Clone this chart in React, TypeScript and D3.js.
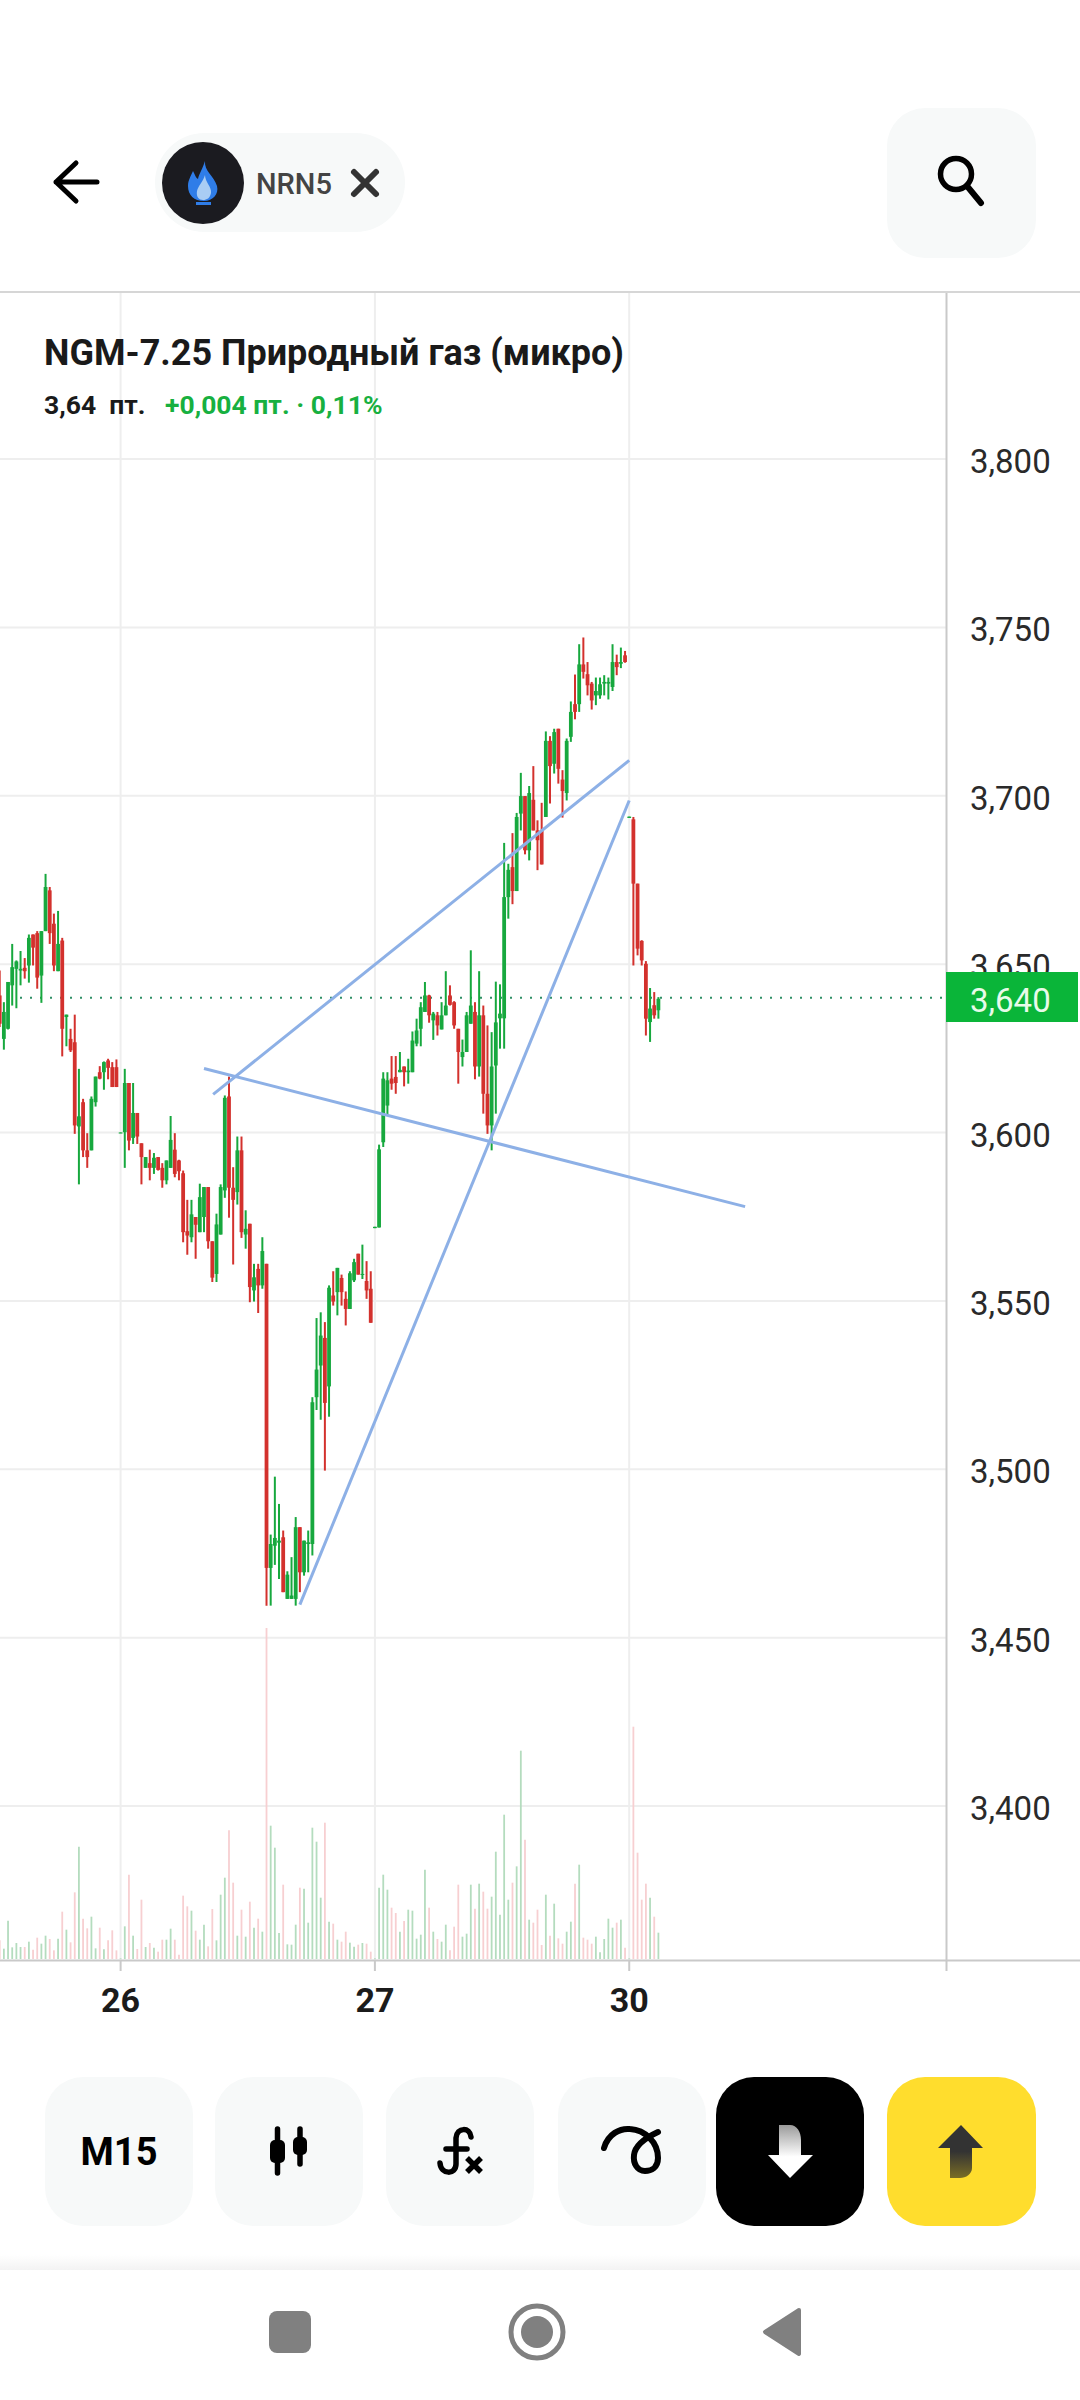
import React from "react";
import * as d3 from "d3";

// prices are in thousandths of a point (3640 = 3,640)
const opens = [3640.7,3627.8,3630.8,3643.7,3648.6,3648.1,3648.9,3649.6,3658.8,3659.2,
3646.6,3659.8,3671.9,3662.0,3647.9,3657.0,3634.3,3627.8,3626.8,3601.8,
3609.0,3594.7,3594.7,3609.0,3617.9,3617.9,3621.4,3619.4,3619.4,3599.8,
3600.1,3614.7,3598.4,3605.8,3596.8,3589.5,3590.9,3589.5,3592.7,3589.5,
3585.8,3589.5,3594.9,3591.7,3587.9,3570.7,3568.9,3574.9,3570.4,3574.9,
3583.8,3567.7,3558.0,3569.7,3582.8,3610.7,3583.6,3582.3,3594.7,3569.7,
3572.9,3553.1,3559.5,3554.6,3561.0,3470.7,3477.3,3478.2,3479.8,3461.5,
3461.5,3461.5,3482.8,3469.4,3477.8,3477.8,3521.4,3530.8,3539.0,3524.6,
3551.6,3552.6,3556.8,3550.6,3547.6,3556.1,3564.0,3557.8,3555.9,3553.6,
3571.6,3571.8,3597.1,3608.0,3616.0,3616.5,3617.9,3619.6,3617.9,3617.9,
3626.4,3630.8,3635.8,3640.7,3633.3,3634.8,3630.6,3634.8,3640.7,3638.7,
3630.8,3622.4,3623.9,3632.3,3635.8,3619.6,3634.8,3611.5,3602.1,3619.9,
3633.9,3633.9,3669.9,3678.8,3671.7,3694.7,3699.9,3683.8,3698.8,3689.7,
3689.7,3693.7,3716.3,3709.5,3719.9,3704.8,3700.8,3717.5,3727.2,3727.2,
3739.0,3736.1,3733.3,3729.8,3729.8,3733.3,3733.3,3732.3,3739.7,3739.2,
3741.7,3693.4,3693.0,3673.9,3656.9,3650.1,3632.8,3637.8,3636.3];
const highs = [3648.1,3638.7,3644.7,3656.0,3651.1,3653.9,3651.8,3658.8,3658.8,3659.8,
3659.8,3676.8,3672.9,3665.0,3665.8,3657.8,3635.0,3630.8,3635.0,3618.9,
3610.0,3599.8,3610.7,3616.6,3619.7,3621.1,3621.9,3620.9,3621.7,3600.0,
3618.9,3614.7,3614.7,3605.8,3596.8,3592.7,3594.9,3593.9,3592.7,3590.9,
3591.7,3604.9,3599.8,3591.9,3588.7,3580.0,3580.0,3574.9,3584.8,3583.8,
3583.8,3567.7,3575.9,3584.6,3611.0,3616.6,3589.7,3598.8,3598.8,3576.9,
3572.9,3561.0,3561.0,3568.9,3561.0,3480.6,3497.8,3489.7,3481.8,3469.7,
3473.9,3485.8,3482.8,3478.8,3481.8,3521.4,3544.9,3546.6,3543.7,3554.6,
3558.8,3559.8,3557.8,3552.8,3558.8,3562.5,3564.0,3566.7,3561.8,3558.8,
3572.0,3596.4,3617.9,3617.9,3622.7,3622.7,3623.9,3619.6,3621.9,3630.0,
3633.8,3638.7,3644.7,3640.9,3635.8,3635.8,3638.7,3647.9,3643.7,3639.0,
3630.8,3627.6,3635.8,3654.1,3638.7,3647.9,3637.7,3631.8,3629.8,3644.8,
3644.0,3686.0,3679.8,3688.9,3694.9,3706.8,3699.9,3702.9,3708.8,3692.7,
3697.9,3719.1,3717.7,3719.9,3719.9,3707.6,3717.0,3728.0,3736.0,3745.0,
3747.0,3739.7,3733.8,3735.1,3735.1,3735.8,3735.1,3745.0,3741.9,3744.0,
3743.0,3693.8,3693.7,3673.9,3657.1,3650.9,3642.9,3641.7,3640.2];
const lows = [3631.3,3624.6,3630.6,3637.7,3636.9,3643.7,3645.7,3644.5,3649.6,3642.7,
3638.5,3659.8,3656.0,3647.9,3647.9,3622.6,3625.6,3623.9,3599.6,3584.6,
3592.7,3589.5,3594.7,3607.7,3615.8,3612.7,3615.8,3613.5,3613.5,3599.8,
3589.5,3594.7,3596.6,3596.6,3584.6,3589.5,3585.8,3587.7,3588.7,3583.6,
3584.6,3589.5,3586.7,3585.8,3567.4,3563.7,3567.4,3562.5,3570.4,3570.4,
3565.5,3555.6,3555.6,3569.7,3580.6,3574.7,3560.8,3578.6,3568.7,3565.5,
3549.6,3549.8,3546.4,3553.6,3459.5,3459.5,3471.6,3467.4,3463.5,3461.5,
3461.5,3459.5,3463.5,3468.4,3469.4,3474.4,3517.6,3514.7,3499.6,3515.6,
3548.6,3545.7,3548.6,3542.7,3547.6,3555.6,3557.8,3556.5,3550.6,3543.5,
3571.6,3571.8,3595.7,3605.1,3612.7,3611.5,3617.9,3613.7,3614.5,3617.9,
3625.6,3625.6,3635.8,3632.6,3627.5,3628.8,3630.6,3634.8,3637.7,3630.8,
3614.5,3619.6,3623.9,3632.3,3615.8,3616.6,3605.6,3599.6,3594.7,3605.6,
3624.9,3624.9,3663.5,3667.8,3671.7,3689.7,3682.6,3680.8,3689.7,3677.9,
3679.6,3693.7,3697.7,3706.6,3703.6,3693.5,3698.6,3716.0,3722.7,3724.9,
3734.8,3729.8,3725.6,3726.9,3728.8,3729.8,3728.6,3731.1,3735.8,3737.9,
3739.5,3693.4,3649.6,3652.6,3649.6,3628.8,3626.9,3633.8,3633.8];
const closes = [3632.3,3635.8,3644.7,3649.1,3650.8,3648.6,3647.9,3657.8,3654.9,3646.0,
3659.8,3672.9,3659.2,3649.6,3656.0,3630.8,3635.0,3624.4,3602.1,3604.8,
3594.7,3592.7,3610.0,3616.6,3616.0,3620.9,3619.2,3613.5,3613.5,3600.0,
3614.7,3597.6,3605.8,3598.8,3592.7,3592.7,3589.5,3592.5,3588.9,3585.8,
3591.7,3597.8,3587.7,3588.5,3570.4,3569.4,3575.7,3572.6,3580.8,3583.8,
3567.7,3556.9,3572.7,3583.8,3610.3,3583.6,3580.0,3594.7,3570.4,3571.4,
3554.1,3557.0,3554.6,3564.8,3470.7,3477.8,3479.6,3478.8,3463.5,3468.7,
3462.5,3482.8,3469.4,3478.8,3478.3,3519.9,3529.6,3539.7,3519.7,3553.9,
3549.8,3559.8,3552.6,3547.6,3558.2,3561.5,3557.8,3558.0,3553.1,3543.5,
3572.0,3595.0,3616.0,3615.5,3614.5,3614.7,3618.6,3617.9,3618.4,3627.3,
3630.3,3637.2,3640.7,3634.8,3635.3,3631.8,3634.8,3637.7,3637.9,3631.8,
3623.9,3623.9,3634.8,3637.7,3619.6,3634.8,3611.5,3602.1,3619.6,3632.7,
3635.3,3669.9,3678.0,3671.7,3693.7,3699.9,3683.8,3700.8,3689.7,3686.8,
3679.6,3716.3,3708.8,3718.9,3708.0,3701.4,3716.3,3724.9,3724.9,3739.0,
3736.8,3732.8,3728.3,3731.1,3733.1,3733.8,3733.8,3739.7,3738.2,3739.7,
3739.7,3693.8,3673.9,3654.6,3651.1,3633.8,3636.8,3634.8,3639.7];
const volumes = [56,31,115,35,48,36,36,52,28,64,
46,70,60,26,61,142,88,50,200,337,
121,92,127,32,94,29,56,86,26,2,
98,253,70,30,178,36,48,34,22,58,
58,91,58,13,190,158,145,85,58,103,
38,150,56,193,244,386,229,70,148,67,
172,94,121,82,993,400,334,78,223,44,
43,103,214,211,109,394,352,184,409,112,
106,58,52,82,49,37,43,48,46,22,
2,214,253,208,154,138,82,114,148,145,
61,73,268,154,82,60,52,103,26,97,
223,67,76,223,151,226,202,151,187,322,
133,433,178,229,278,625,358,118,109,148,
42,193,70,166,62,46,82,112,226,283,
64,58,46,67,20,60,121,94,109,118,
34,2,697,319,178,226,184,127,79];

const priceTicks = [3800,3750,3700,3650,3600,3550,3500,3450,3400];
const dayTicks = [{ label: "26", index: 29 }, { label: "27", index: 90 }, { label: "30", index: 151 }];
const lastPrice = 3640;
const trendLines = [
  [[51.2, 3611.3], [151, 3710.5]],
  [[49.0, 3619.0], [178.8, 3578.0]],
  [[72.0, 3459.8], [151, 3698.6]],
];
const title = "NGM-7.25 Природный газ (микро)";

const RED = "#d3312d", GREEN = "#17a83e", RED_V = "#f7cfd1", GREEN_V = "#b4dcbe", GRID = "#eeeeee", AXIS = "#c9c9c9", PANEL = "#f7f9f9";
const FONT = "Roboto, sans-serif";

const x = d3.scaleLinear().domain([0, 158]).range([-0.3, 658.4]);
const y = d3.scaleLinear().domain([3400, 3800]).range([1806, 459]);
const vol = d3.scaleLinear().domain([0, 1000]).range([1959, 1959 - 333.3]);
const fmt = (p: number) => (p / 1000).toFixed(3).replace(".", ",");
const line = d3.line<number[]>().x((d) => x(d[0])).y((d) => y(d[1]));

function Btn({ x: bx, fill = PANEL, y: by = 2077, w = 148, h = 149 }: any) {
  return <rect x={bx} y={by} width={w} height={h} rx={38} fill={fill} />;
}

export default function App() {
  return (
    <svg width={1080} height={2400} viewBox="0 0 1080 2400" style={{ position: "absolute", left: 0, top: 0, background: "#fff" }} fontFamily={FONT}>
      <defs>
        <linearGradient id="downG" x1="0" y1="0" x2="0" y2="1">
          <stop offset="0" stopColor="#9a9a9a" /><stop offset="0.6" stopColor="#ffffff" />
        </linearGradient>
        <linearGradient id="upG" x1="0" y1="0" x2="0" y2="1">
          <stop offset="0.5" stopColor="#333333" /><stop offset="1" stopColor="#7a6d25" />
        </linearGradient>
        <linearGradient id="shadowG" x1="0" y1="0" x2="0" y2="1">
          <stop offset="0" stopColor="#ffffff" /><stop offset="1" stopColor="#f3f3f3" />
        </linearGradient>
      </defs>

      {/* header */}
      <path d="M56 182 H97 M76 163 L56 182 L76 201" fill="none" stroke="#000" strokeWidth={5} strokeLinecap="round" strokeLinejoin="round" />
      <rect x={155} y={133} width={250} height={99} rx={49.5} fill={PANEL} />
      <circle cx={203} cy={183} r={41} fill="#1b1b20" />
      <path d="M205 161 C204 171 214 176 217 186 C219 194 213 201 204 201 C194 201 188 195 188 186 C188 180 191 176 193 171 C195 175 196 178 198 179 C199 174 203 168 205 161 Z" fill="#2f7de8" />
      <path d="M205 175 C205 182 212 187 211 193 C210 198 207 200 203 200 C199 200 196 197 197 191 C198 186 203 182 205 175 Z" fill="#a9cdf4" />
      <rect x={196} y={202} width={15} height={3} fill="#2f7de8" />
      <text x={256} y={194} fontSize={29} fontWeight={500} fill="#444">NRN5</text>
      <path d="M354 172 L376 194 M376 172 L354 194" stroke="#333" strokeWidth={6} strokeLinecap="round" />
      <rect x={887} y={108} width={149} height={150} rx={38} fill={PANEL} />
      <circle cx={956} cy={174} r={15.5} fill="none" stroke="#000" strokeWidth={5.5} />
      <path d="M967 186 L981 203" stroke="#000" strokeWidth={6} strokeLinecap="round" />
      <line x1={0} x2={1080} y1={292} y2={292} stroke="#d6d6d6" strokeWidth={2} />

      {/* grid */}
      {priceTicks.map((p) => (
        <line key={p} x1={0} x2={946} y1={y(p)} y2={y(p)} stroke={GRID} strokeWidth={2} />
      ))}
      {dayTicks.map((d) => (
        <line key={d.label} x1={x(d.index)} x2={x(d.index)} y1={293} y2={1960} stroke={GRID} strokeWidth={2} />
      ))}

      {/* volumes */}
      {volumes.map((v, i) => (
        <line key={i} x1={x(i)} x2={x(i)} y1={vol(v)} y2={vol(0)} stroke={closes[i] >= opens[i] ? GREEN_V : RED_V} strokeWidth={1.8} />
      ))}

      {/* last price line */}
      <line x1={20} x2={946} y1={y(lastPrice)} y2={y(lastPrice)} stroke="#2e8f66" strokeWidth={2} strokeDasharray="2 8" />

      {/* candles */}
      {opens.map((o, i) => {
        const c = closes[i];
        const up = c >= o;
        const top = y(Math.max(o, c));
        const bot = y(Math.min(o, c));
        const col = up ? GREEN : RED;
        return (
          <g key={i}>
            <line x1={x(i)} x2={x(i)} y1={y(highs[i])} y2={y(lows[i])} stroke={col} strokeWidth={2} />
            <rect x={x(i) - 1.9} y={top} width={3.8} height={Math.max(bot - top, 1)} fill={col} />
          </g>
        );
      })}

      {/* trend lines */}
      {trendLines.map((l, i) => (
        <path key={i} d={line(l) || ""} fill="none" stroke="#8db0e6" strokeWidth={3} />
      ))}

      {/* axes */}
      <line x1={946.5} x2={946.5} y1={293} y2={1960} stroke={AXIS} strokeWidth={2} />
      <line x1={0} x2={1080} y1={1960.5} y2={1960.5} stroke={AXIS} strokeWidth={2} />
      {[...dayTicks.map((d) => x(d.index)), 946.5].map((tx, i) => (
        <line key={i} x1={tx} x2={tx} y1={1960} y2={1971} stroke={AXIS} strokeWidth={2} />
      ))}
      {dayTicks.map((d) => (
        <text key={d.label} x={x(d.index)} y={2012} textAnchor="middle" fontSize={34} fontWeight={700} fill="#1b1b1b">{d.label}</text>
      ))}
      {priceTicks.map((p) => (
        <text key={p} x={970} y={y(p) + 14} fontSize={33} fill="#2a2a2a">{fmt(p)}</text>
      ))}
      <rect x={946} y={972} width={132} height={50} fill="#0ab539" />
      <text x={970} y={y(lastPrice) + 14} fontSize={33} fill="#e8fbea">{fmt(lastPrice)}</text>

      {/* title */}
      <text x={44} y={365} fontSize={36} fontWeight={700} fill="#1a1a1a">{title}</text>
      <text x={44} y={414} fontSize={26.5} fontWeight={700} fill="#1a1a1a" xmlSpace="preserve">3,64  пт.</text>
      <text x={165} y={414} fontSize={26.5} fontWeight={700} fill="#17b040">+0,004 пт. · 0,11%</text>

      {/* toolbar */}
      <Btn x={45} />
      <Btn x={215} />
      <Btn x={386} />
      <Btn x={558} />
      <Btn x={716} fill="#000" />
      <Btn x={887} w={149} fill="#ffdd2d" />
      <text x={119} y={2165} textAnchor="middle" fontSize={38} fontWeight={700} fill="#000">M15</text>
      <path d="M277.5 2129 V2173 M300 2129 V2164" stroke="#000" strokeWidth={5.5} strokeLinecap="round" />
      <rect x={270} y={2140} width={15} height={23} rx={5} fill="#000" />
      <rect x={293} y={2137} width={14} height={18} rx={5} fill="#000" />
      <path d="M471 2137 C470 2127 457 2127 456 2138 L456 2164 C456 2175 441 2175 440 2163 M446 2149 H467" fill="none" stroke="#000" strokeWidth={5.5} strokeLinecap="round" />
      <path d="M467 2158 L481 2172 M481 2158 L467 2172" stroke="#000" strokeWidth={5.5} />
      <path d="M604 2148 C608 2134 620 2128 630 2129 C645 2130 658 2142 658 2158 C658 2168 651 2171 645 2171 C637 2171 633 2163 634 2155 C635 2146 645 2138 658 2132" fill="none" stroke="#000" strokeWidth={6} strokeLinecap="round" />
      <path d="M779 2125 H790 C797 2125 801 2132 801 2140 V2155 H813 L790 2178 L768 2155 H779 Z" fill="url(#downG)" />
      <path d="M961 2125 L983 2148 H972 V2168 C972 2174 966 2178 960 2178 H950 V2148 H938 Z" fill="url(#upG)" />

      {/* nav bar */}
      <rect x={0} y={2255} width={1080} height={15} fill="url(#shadowG)" />
      <rect x={269} y={2311} width={42} height={42} rx={8} fill="#808080" />
      <circle cx={537} cy={2332} r={26} fill="none" stroke="#808080" strokeWidth={5} />
      <circle cx={537} cy={2332} r={16} fill="#808080" />
      <path d="M799 2310 L765 2332 L799 2354 Z" fill="#808080" stroke="#808080" strokeWidth={4} strokeLinejoin="round" />
    </svg>
  );
}
